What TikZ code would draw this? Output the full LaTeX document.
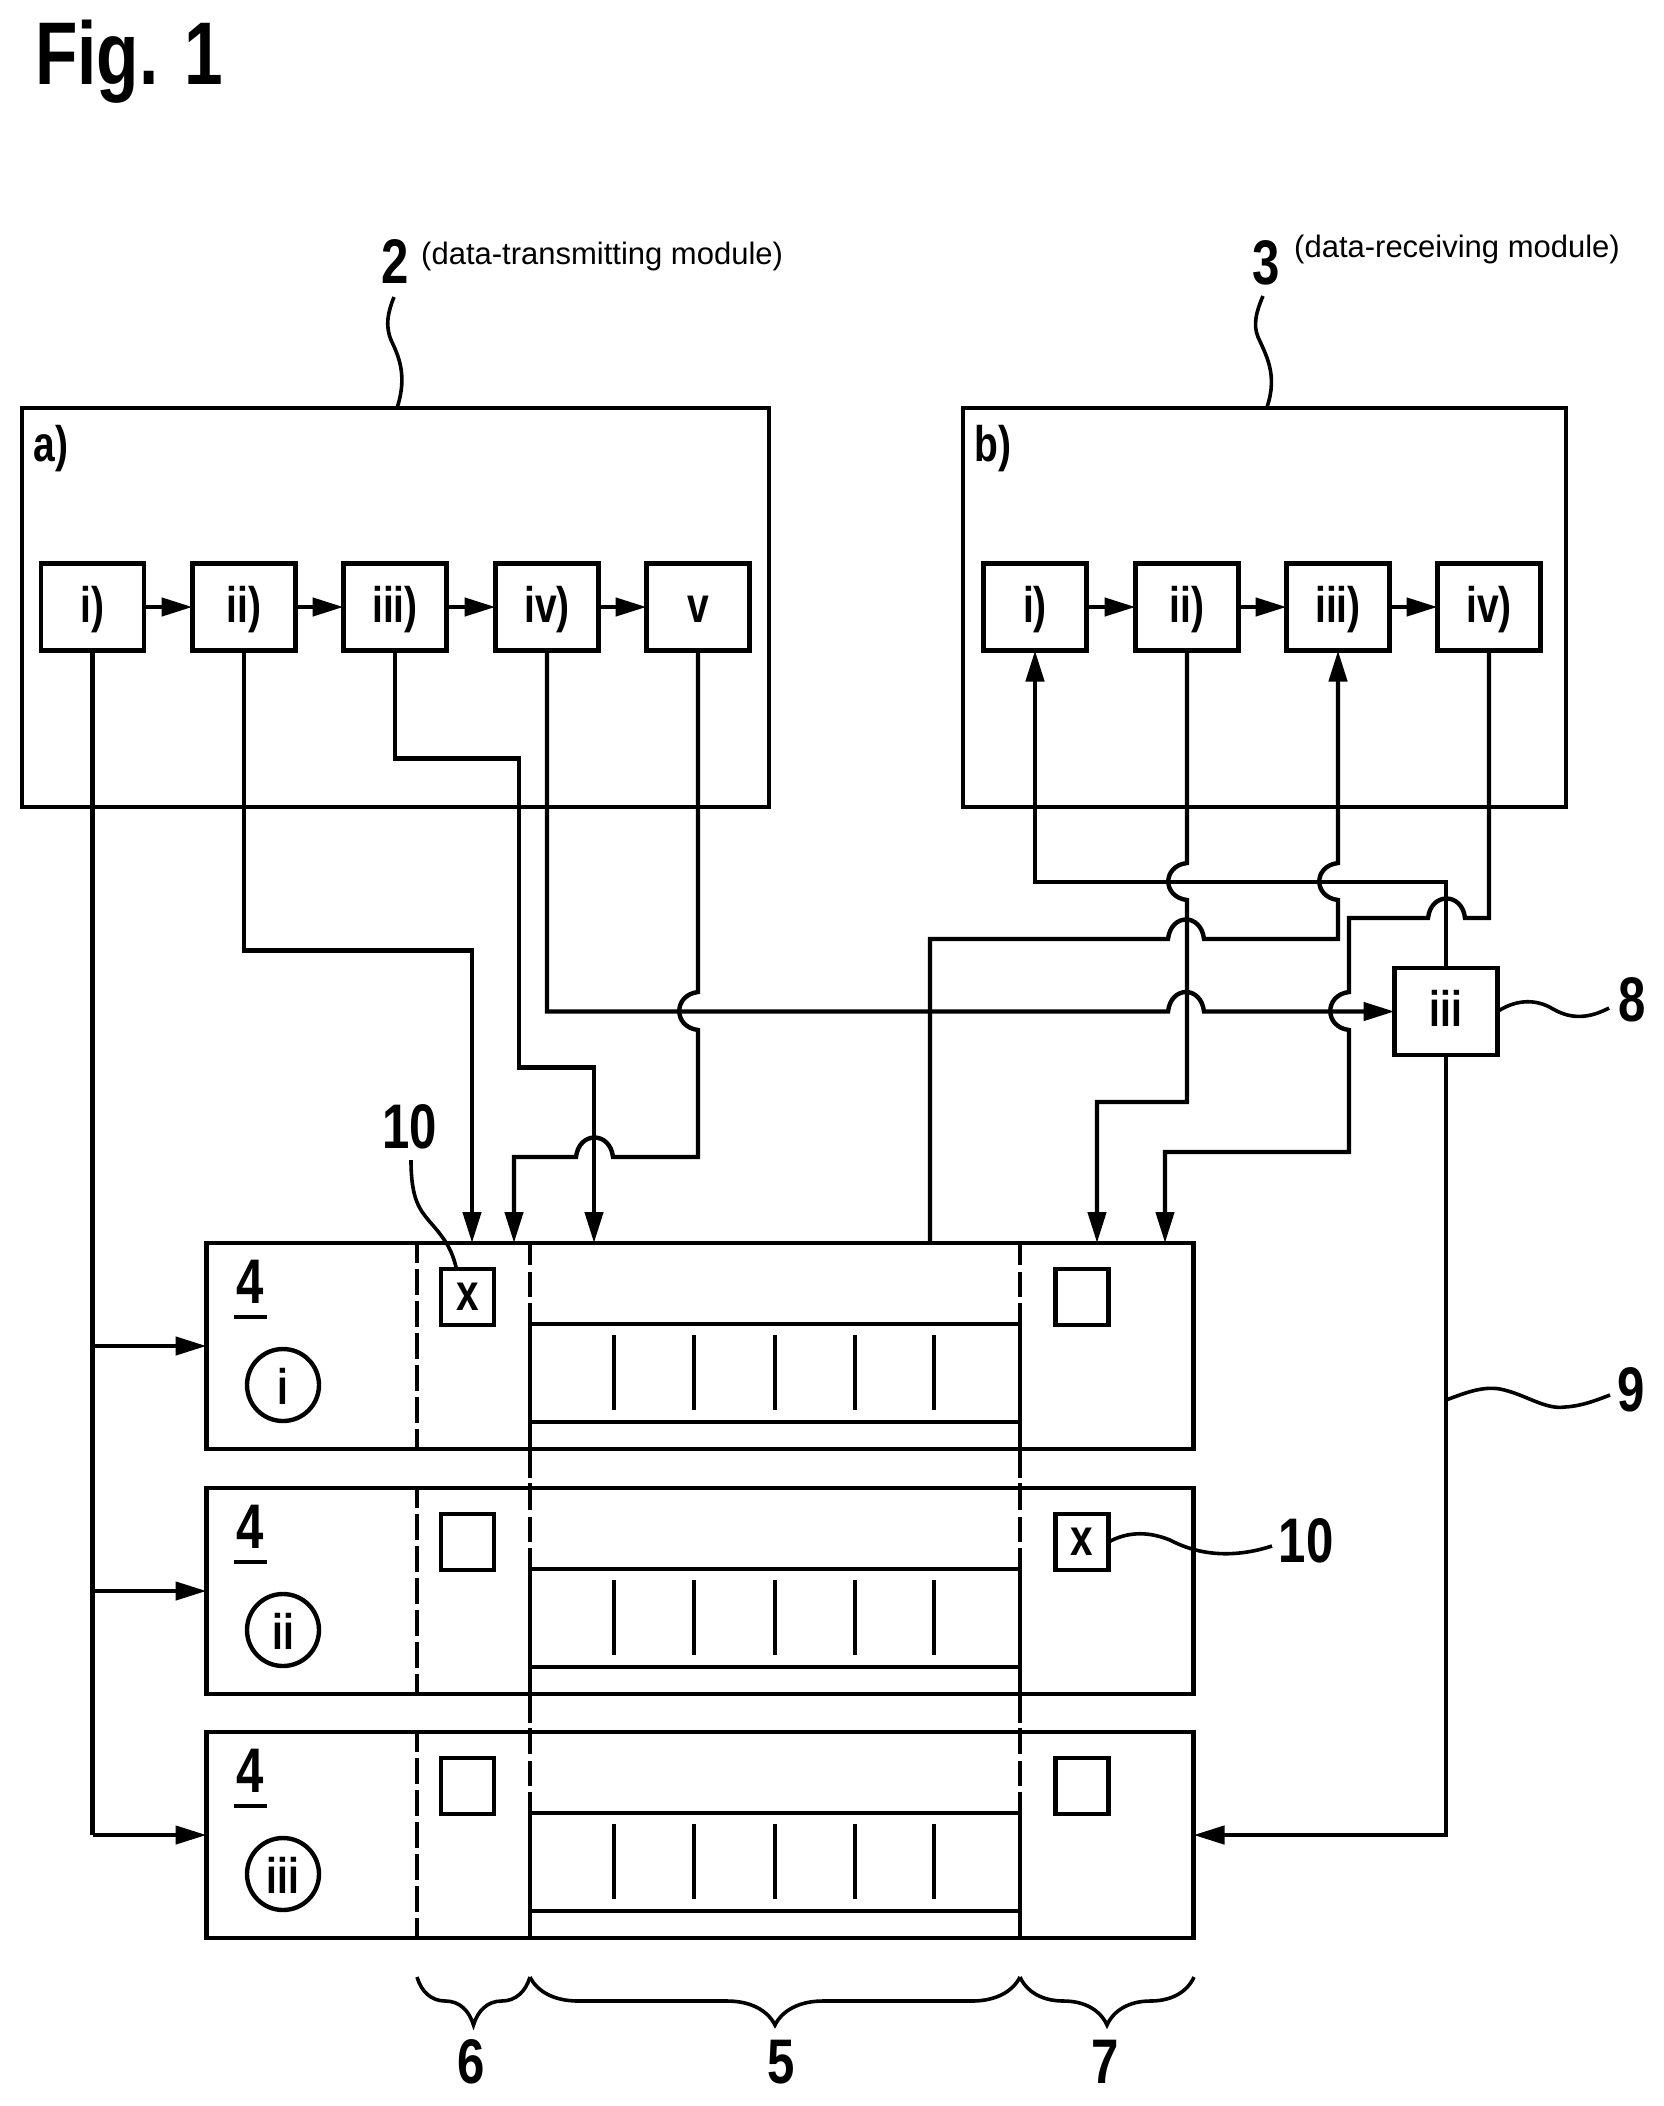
\documentclass[tikz,border=0pt]{standalone}
\usepackage{xcolor}
\usepackage{fontspec}
\setmainfont{Liberation Sans}
\newfontfamily\numfont[FakeStretch=.78]{Liberation Sans}
\usetikzlibrary{arrows.meta,decorations.pathreplacing}
\tikzset{
    stepbox/.style={draw,minimum width=103pt,minimum height=87pt,inner sep=0pt,outer sep=0pt,text height=35pt,text depth=5pt,font=\numfont\bfseries\fontsize{50}{54}\selectfont},
    sqbox/.style={draw,minimum width=53pt,minimum height=56pt,inner sep=0pt,outer sep=0pt,font=\numfont\bfseries\fontsize{52}{54}\selectfont},
    ring/.style={draw,circle,minimum size=72pt,inner sep=0pt,outer sep=0pt,text height=38pt,text depth=0pt,font=\numfont\bfseries\fontsize{50}{54}\selectfont},
    modbox/.style={draw,minimum width=987pt,minimum height=206pt,inner sep=0pt,outer sep=0pt},
    numlabel/.style={inner sep=0pt,font=\numfont\bfseries\fontsize{63}{66}\selectfont},
    caselabel/.style={inner sep=0pt,font=\numfont\bfseries\fontsize{50}{54}\selectfont},
    capt/.style={inner sep=0pt,font=\fontsize{31}{36}\selectfont},
    leader/.style={line width=3.6pt},
    curly/.style={line width=3.6pt,decorate,decoration={brace,mirror,amplitude=48pt}}
}
\begin{document}
\begin{tikzpicture}[x=1pt,y=-1pt,line width=4.4pt,>={Triangle[length=31pt,width=18pt]}]
    \useasboundingbox (0,0) rectangle (1664,2106);
    \node[anchor=base west,inner sep=0pt,font=\numfont\bfseries\fontsize{89}{92}\selectfont] (figtitle) at (33,85) {Fig. 1};
    % outer blocks
    \draw (22,408) rectangle (769,807);
    \draw (963,408) rectangle (1566,807);
    \node[caselabel] (alabel) at (51,449) {a)};
    \node[caselabel] (blabel) at (993,449) {b)};
    \node[stepbox] (ai) at (92.5,607) {i)};
    \node[stepbox] (aii) at (244,607) {ii)};
    \node[stepbox] (aiii) at (395,607) {iii)};
    \node[stepbox] (aiv) at (547,607) {iv)};
    \node[stepbox] (av) at (698,607) {v};
    \node[stepbox] (bi) at (1035,607) {i)};
    \node[stepbox] (bii) at (1187,607) {ii)};
    \node[stepbox] (biii) at (1338,607) {iii)};
    \node[stepbox] (biv) at (1489,607) {iv)};
    \node[stepbox] (third) at (1446,1011.5) {iii};
    \foreach \from/\to in {ai/aii,aii/aiii,aiii/aiv,aiv/av,bi/bii,bii/biii,biii/biv}
        \draw[->] (\from.east) -- (\to.west);
    % the three modules
    \foreach \mod/\ytop/\num/\markL/\markR in {modA/1243/i/x/{},modB/1488/ii/{}/x,modC/1732/iii/{}/{}} {
        \node[modbox] (\mod) at (700,\ytop+103) {};
        \node[numlabel] (\mod-four) at (250,\ytop+39) {4};
        \draw (234,\ytop+74) -- (267,\ytop+74);
        \node[ring] (\mod-ring) at (283,\ytop+142) {\num};
        \node[sqbox] (\mod-sqL) at (467.5,\ytop+54) {\markL};
        \node[sqbox] (\mod-sqR) at (1082,\ytop+54) {\markR};
        \draw[dash pattern=on 26pt off 6pt,dash phase=6pt] (417,\ytop) -- (417,\ytop+206);
        \foreach \xdiv in {530,1020} {
            \draw[dash pattern=on 22pt off 7pt on 25pt off 6pt] (\xdiv,\ytop) -- (\xdiv,\ytop+60);
            \draw (\xdiv,\ytop+60) -- (\xdiv,\ytop+206);
        }
        \draw (530,\ytop+81) -- (1020,\ytop+81);
        \draw (530,\ytop+179) -- (1020,\ytop+179);
        \foreach \xtick in {614,694,775,855,934}
            \draw (\xtick,\ytop+92) -- (\xtick,\ytop+167);
    }
    \foreach \xdiv in {530,1020} {
        \draw[dash pattern=on 29pt off 5pt on 6pt off 0pt] (\xdiv,1449) -- (\xdiv,1488);
        \draw[dash pattern=on 29pt off 5pt on 6pt off 0pt] (\xdiv,1694) -- (\xdiv,1732);
    }
    % inputs on top of the first module
    \coordinate (inii) at (472,1243);
    \coordinate (inv) at (514,1243);
    \coordinate (iniii) at (594,1243);
    \coordinate (outb) at (930,1243);
    \coordinate (inbii) at (1097,1243);
    \coordinate (inbiv) at (1165,1243);
    % data-transmitting side
    \draw (ai.south) -- (ai.south |- modC.west);
    \foreach \mod in {modA,modB,modC}
        \draw[->] (ai.south |- \mod.west) -- (\mod.west);
    \draw[->] (aii.south) -- ++(0,300) -| (inii);
    \draw[->] (aiii.south) -- ++(0,108) -- ++(124,0) -- ++(0,309) -| (iniii);
    \draw[->] (av.south) -- (698,992) .. controls +(-25,3) and +(-25,-3) .. (698,1030) -- (698,1157)
        -- (613,1157) .. controls +(-3,-26) and +(3,-26) .. (576,1157) -| (inv);
    \draw[->] (aiv.south) -- (547,1011.5) -- (1168,1011.5) .. controls +(3,-26) and +(-3,-26) .. (1204,1011.5) -- (third.west);
    % data-receiving side
    \draw[->] (third.north) -- (1446,882) -- (1035,882) -- (bi.south);
    \draw[->] (outb) -- (930,939) -- (1168,939) .. controls +(3,-26) and +(-3,-26) .. (1204,939)
        -- (1338,939) -- (1338,900) .. controls +(-25,-3) and +(-25,3) .. (1338,863) -- (biii.south);
    \draw[->] (bii.south) -- (1187,863) .. controls +(-25,3) and +(-25,-3) .. (1187,900) -- (1187,1102) -| (inbii);
    \draw[->] (biv.south) -- (1489,918) -- (1465,918) .. controls +(-3,-26) and +(3,-26) .. (1428,918)
        -- (1349,918) -- (1349,992) .. controls +(-25,3) and +(-25,-3) .. (1349,1030) -- (1349,1152) -| (inbiv);
    \draw[->] (third.south) |- (modC.east);
    % reference numbers
    \node[numlabel] (two) at (395,262) {2};
    \node[capt,anchor=west] (twotext) at (419,256) {(data-transmitting module)};
    \node[numlabel] (three) at (1266,263) {3};
    \node[capt,anchor=west] (threetext) at (1292,249) {(data-receiving module)};
    \node[numlabel] (eight) at (1632,1000) {8};
    \node[numlabel] (nine) at (1631,1390) {9};
    \node[numlabel] (tena) at (410,1127) {10};
    \node[numlabel] (tenb) at (1306,1541) {10};
    \draw[leader] (394,297) .. controls (388,312) and (385,325) .. (391,340) .. controls (398,355) and (408,375) .. (397,408);
    \draw[leader] (1263,296) .. controls (1256,312) and (1253,325) .. (1258,337) .. controls (1266,355) and (1278,375) .. (1267,407);
    \draw[leader] (third.east) .. controls (1515,1000) and (1535,998) .. (1553,1009) .. controls (1572,1020) and (1590,1018) .. (1609,1008);
    \draw[leader] (1446,1400) .. controls (1465,1393) and (1482,1386) .. (1500,1389) .. controls (1525,1394) and (1545,1410) .. (1565,1407) .. controls (1582,1406) and (1597,1400) .. (1610,1395);
    \draw[leader] (modA-sqL.north) ++(-11,0) .. controls (452,1250) and (446,1240) .. (430,1222) .. controls (420,1210) and (411,1200) .. (411,1160);
    \draw[leader] (modB-sqR.east) .. controls (1125,1533) and (1145,1530) .. (1170,1540) .. controls (1200,1556) and (1235,1558) .. (1272,1546);
    % braces under the modules
    \draw[curly] (417,1977) -- (530,1977);
    \draw[curly] (530,1977) -- (1020,1977);
    \draw[curly] (1020,1977) -- (1194,1977);
    \node[numlabel] (six) at (471,2062) {6};
    \node[numlabel] (five) at (781,2062) {5};
    \node[numlabel] (seven) at (1105,2062) {7};
\end{tikzpicture}
\end{document}
